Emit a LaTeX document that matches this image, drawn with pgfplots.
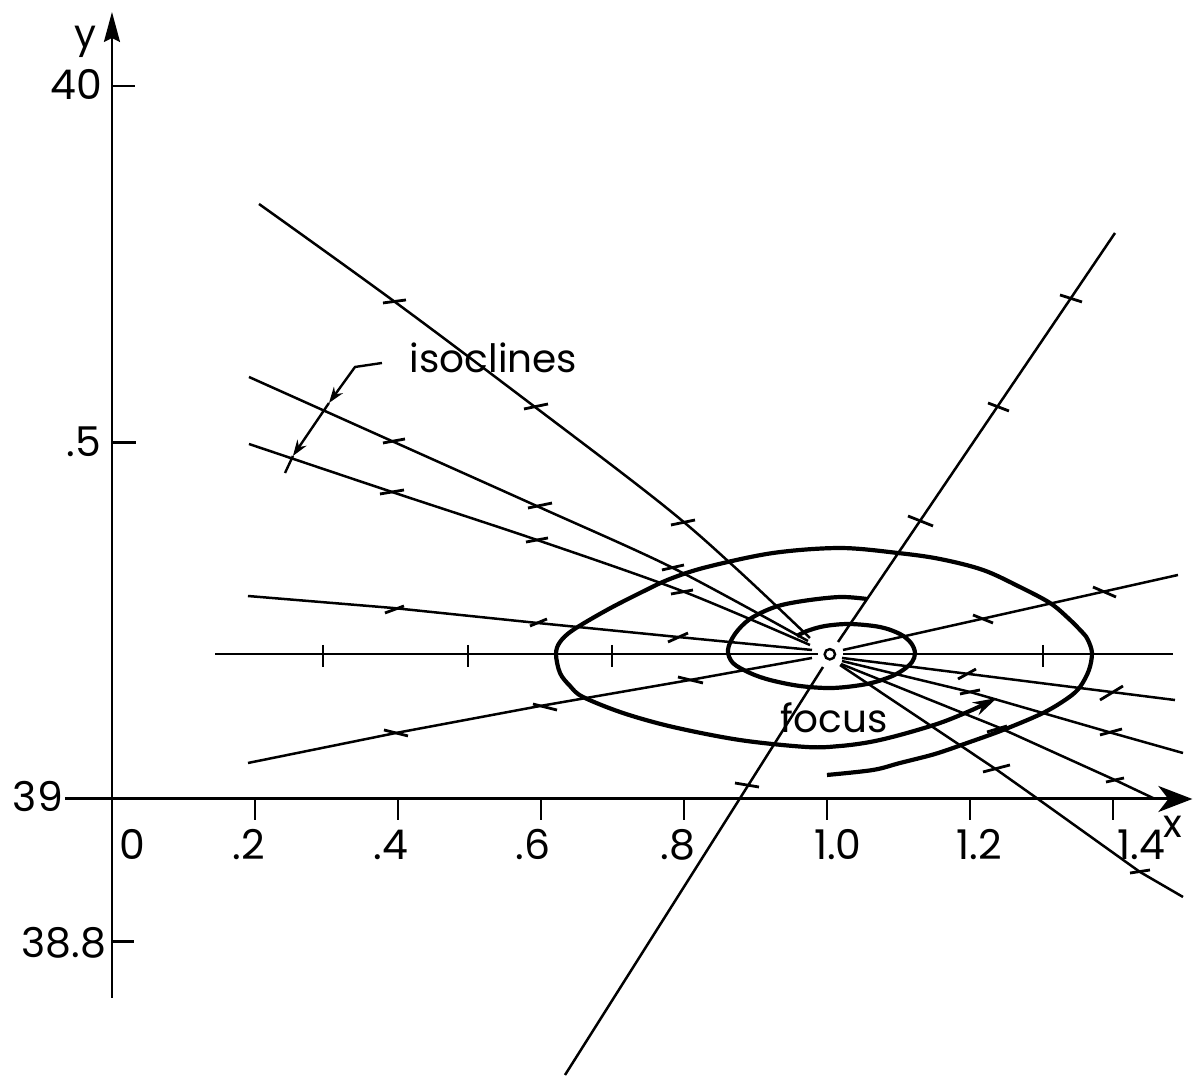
\documentclass[border=0pt]{standalone}
\usepackage{pgfplots}
\pgfplotsset{compat=1.18}
\usetikzlibrary{arrows.meta}
\usepackage{fontspec}
\setmainfont{Poppins}
\newcommand\lab{\fontsize{20.5bp}{23bp}\selectfont}
\newcommand\txt{\fontsize{19.5bp}{22bp}\selectfont}
\begin{document}
\begin{tikzpicture}
\useasboundingbox (0,0) rectangle (597bp,539bp);
\begin{axis}[
  at={(0,0)}, anchor=south west,
  scale only axis, width=597bp, height=539bp,
  xmin=-0.1566, xmax=1.5133, ymin=38.6087, ymax=40.1206,
  hide axis, clip=false,
  iso/.style={black, line width=1.25bp},
  mk/.style={black, line width=1.4bp},
  traj/.style={black, line width=2.1bp, smooth, tension=0.55},
]
% coordinate axes
\addplot[black, line width=1.5bp, -{Stealth[length=17bp,width=13bp,inset=5bp]}]
  coordinates {(-0.0657,39) (1.511,39)};
\addplot[black, line width=1.2bp, -{Stealth[length=15bp,width=8bp,inset=2bp]}]
  coordinates {(0,38.7209) (0,40.1038)};
% axis ticks
\addplot[mk] coordinates {(0,40) (0.032,40)};
\addplot[mk] coordinates {(0,39.5) (0.033,39.5)};
\addplot[mk] coordinates {(0,38.8) (0.031,38.8)};
\foreach \t in {0.2,0.4,0.6,0.8,1.0,1.2,1.4}{
  \addplot[black, line width=1.2bp] coordinates {(\t,39) (\t,38.9705)};
}
% tick labels
\node[anchor=base, font=\lab] at (axis cs:-0.0503,39.9804) {40};
\node[anchor=base, font=\lab] at (axis cs:-0.0392,39.4797) {.5};
\node[anchor=base, font=\lab] at (axis cs:-0.1035,38.9818) {39};
\node[anchor=base, font=\lab] at (axis cs:-0.0671,38.7784) {38.8};
\node[anchor=base, font=\lab] at (axis cs:0.0280,38.9158) {0};
\node[anchor=base, font=\lab] at (axis cs:0.1916,38.9158) {.2};
\node[anchor=base, font=\lab] at (axis cs:0.3902,38.9158) {.4};
\node[anchor=base, font=\lab] at (axis cs:0.5888,38.9158) {.6};
\node[anchor=base, font=\lab] at (axis cs:0.7916,38.9158) {.8};
\node[anchor=base, font=\lab] at (axis cs:1.0154,38.9158) {1.0};
\node[anchor=base, font=\lab] at (axis cs:1.2126,38.9158) {1.2};
\node[anchor=base, font=\lab] at (axis cs:1.4392,38.9158) {1.4};
\node[anchor=base, font=\txt] at (axis cs:1.4839,38.9453) {x};
\node[anchor=base, font=\txt] at (axis cs:-0.0364,40.0533) {y};

% isoclines through the focus
\addplot[iso] coordinates {(0.6336,38.6129) (0.9944,39.1851)};
\addplot[iso] coordinates {(1.0154,39.2202) (1.4028,39.7938)};
\addplot[iso, smooth, tension=0.6] coordinates {(0.2056,39.8345) (0.3958,39.6971) (0.5916,39.5498) (0.7706,39.4123) (0.8700,39.3260) (0.9762,39.2258)};
\addplot[iso] coordinates {(1.0182,39.1879) (1.2378,39.0407) (1.2951,39.0) (1.4378,38.8976) (1.4979,38.8626)};
\addplot[iso, smooth, tension=0.5] coordinates {(0.1916,39.5919) (0.3944,39.5007) (0.5972,39.4095) (0.7846,39.3240) (0.9734,39.2216)};
\addplot[iso] coordinates {(1.0196,39.1893) (1.2420,39.0996) (1.4028,39.0266) (1.4559,39.0014)};
\addplot[iso, smooth, tension=0.5] coordinates {(0.1916,39.4979) (0.3916,39.4306) (0.5944,39.3633) (0.7972,39.2917) (0.9762,39.2160)};
\addplot[iso] coordinates {(1.0210,39.1935) (1.2000,39.1501) (1.3986,39.0926) (1.4979,39.0645)};
\addplot[iso] coordinates {(0.1902,39.2847) (0.3930,39.2679) (0.5958,39.2468) (0.7916,39.2272) (0.9790,39.2090)};
\addplot[iso] coordinates {(1.0210,39.1978) (1.4867,39.1388)};
\addplot[iso] coordinates {(0.1441,39.2034) (0.9874,39.2034)};
\addplot[iso] coordinates {(1.0224,39.2034) (1.4839,39.2034)};
\addplot[iso] coordinates {(0.1902,39.0505) (0.3972,39.0926) (0.5986,39.1304) (0.8084,39.1669) (0.9790,39.1978)};
\addplot[iso] coordinates {(1.0224,39.2090) (1.4909,39.3142)};

% slope marks along the isoclines
\addplot[mk] coordinates {(0.8713,39.0224) (0.9049,39.0168)};
\addplot[mk] coordinates {(1.1133,39.3969) (1.1483,39.3829)};
\addplot[mk] coordinates {(1.2252,39.5554) (1.2545,39.5442)};
\addplot[mk] coordinates {(1.3259,39.7069) (1.3566,39.6971)};
\addplot[mk] coordinates {(0.3790,39.6957) (0.4112,39.6999)};
\addplot[mk] coordinates {(0.5762,39.5470) (0.6098,39.5540)};
\addplot[mk] coordinates {(0.7818,39.3843) (0.8154,39.3913)};
\addplot[mk] coordinates {(0.3790,39.4993) (0.4098,39.5049)};
\addplot[mk] coordinates {(0.5818,39.4081) (0.6154,39.4151)};
\addplot[mk] coordinates {(0.7692,39.3212) (0.8000,39.3282)};
\addplot[mk] coordinates {(0.3748,39.4278) (0.4084,39.4334)};
\addplot[mk] coordinates {(0.5790,39.3604) (0.6098,39.3661)};
\addplot[mk] coordinates {(0.7818,39.2875) (0.8126,39.2931)};
\addplot[mk] coordinates {(0.3818,39.2609) (0.4084,39.2707)};
\addplot[mk] coordinates {(0.5846,39.2426) (0.6084,39.2525)};
\addplot[mk] coordinates {(0.7776,39.2202) (0.8056,39.2328)};
\addplot[mk] coordinates {(0.3804,39.0968) (0.4140,39.0884)};
\addplot[mk] coordinates {(0.5888,39.1332) (0.6224,39.1248)};
\addplot[mk] coordinates {(0.7916,39.1711) (0.8266,39.1627)};
\addplot[mk] coordinates {(0.2951,39.2160) (0.2951,39.1851)};
\addplot[mk] coordinates {(0.4979,39.2160) (0.4979,39.1851)};
\addplot[mk] coordinates {(0.6993,39.2160) (0.6993,39.1851)};
\addplot[mk] coordinates {(1.3021,39.2160) (1.3021,39.1851)};
\addplot[mk] coordinates {(1.2042,39.2581) (1.2322,39.2468)};
\addplot[mk] coordinates {(1.3720,39.2973) (1.4042,39.2833)};
\addplot[mk] coordinates {(1.1832,39.1683) (1.2084,39.1823)};
\addplot[mk] coordinates {(1.3818,39.1388) (1.4140,39.1585)};
\addplot[mk] coordinates {(1.1860,39.1473) (1.2140,39.1529)};
\addplot[mk] coordinates {(1.3818,39.0898) (1.4126,39.0982)};
\addplot[mk] coordinates {(1.2238,39.0940) (1.2517,39.1024)};
\addplot[mk] coordinates {(1.3902,39.0238) (1.4154,39.0295)};
\addplot[mk] coordinates {(1.2182,39.0379) (1.2559,39.0477)};
\addplot[mk] coordinates {(1.4238,38.8962) (1.4517,38.9004)};

% trajectory spiralling into the focus
\addplot[traj, -{Stealth[length=12bp,width=7bp]}] coordinates {
 (1.0000,39.0337) (1.0643,39.0407) (1.1021,39.0505) (1.1510,39.0631)
 (1.1958,39.0785) (1.2462,39.0968) (1.3021,39.1206) (1.3371,39.1417)
 (1.3538,39.1571) (1.3664,39.1809) (1.3706,39.2048) (1.3650,39.2230)
 (1.3580,39.2328) (1.3371,39.2539) (1.3119,39.2749) (1.2699,39.2973)
 (1.2182,39.3212) (1.1580,39.3366) (1.0993,39.3450) (1.0182,39.3520)
 (0.9245,39.3450) (0.8322,39.3254) (0.7804,39.3086) (0.7385,39.2889)
 (0.6923,39.2651) (0.6448,39.2370) (0.6266,39.2202) (0.6210,39.2034)
 (0.6266,39.1767) (0.6406,39.1585) (0.6587,39.1431) (0.7147,39.1206)
 (0.7846,39.1010) (0.8783,39.0827) (0.9720,39.0729) (1.0182,39.0743)
 (1.0601,39.0799) (1.1021,39.0898) (1.1580,39.1066) (1.2028,39.1248)
 (1.2378,39.1417)};
\addplot[traj] coordinates {
 (1.0559,39.2805) (1.0182,39.2833) (0.9664,39.2777) (0.9273,39.2693)
 (0.8923,39.2525) (0.8713,39.2314) (0.8615,39.2090) (0.8685,39.1907)
 (0.8923,39.1767) (0.9203,39.1669) (0.9622,39.1585) (1.0084,39.1557)
 (1.0559,39.1613) (1.0881,39.1711) (1.1063,39.1809) (1.1189,39.1921)
 (1.1231,39.2048) (1.1175,39.2188) (1.1021,39.2314) (1.0741,39.2412)
 (1.0322,39.2454) (0.9972,39.2426) (0.9720,39.2356) (0.9580,39.2286)};

% the focus
\addplot[black, only marks, mark=o, mark size=2.6bp, mark options={line width=1.2bp}]
  coordinates {(1.004,39.203)};

% annotations
\node[anchor=base, font=\txt] at (axis cs:0.5336,39.5975) {isoclines};
\addplot[black, line width=1.2bp, -{Stealth[length=8bp,width=5.5bp]}]
  coordinates {(0.3776,39.6115) (0.3399,39.6059) (0.3035,39.5554)};
\addplot[black, line width=1.2bp, -{Stealth[length=8bp,width=5.5bp]}]
  coordinates {(0.3035,39.5554) (0.2531,39.4811)};
\addplot[black, line width=1.2bp] coordinates {(0.2531,39.4811) (0.2420,39.4572)};
\node[anchor=base, font=\txt] at (axis cs:1.0098,39.0926) {focus};
\end{axis}
\end{tikzpicture}
\end{document}
